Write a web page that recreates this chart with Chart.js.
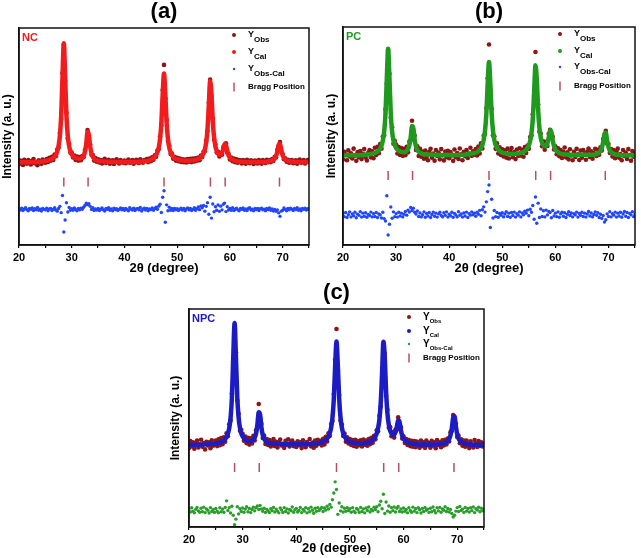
<!DOCTYPE html>
<html>
<head>
<meta charset="utf-8">
<script src="https://cdn.jsdelivr.net/npm/chart.js@4.4.1/dist/chart.umd.min.js"></script>
<style>
  body { margin: 0; background: #fff; }
  canvas { position: absolute; }
</style>
</head>
<body>
<canvas id="chartA" width="320" height="280" style="left:0;top:0"></canvas>
<canvas id="chartB" width="321" height="280" style="left:320px;top:0"></canvas>
<canvas id="chartC" width="325" height="278" style="left:165px;top:280px"></canvas>
<script>
// scan grid of the observed / difference patterns (2theta, degrees)
var scanStart = 20;
var scanStep = 0.25;
var braggPos = [28.5, 33.1, 47.5, 56.3, 59.1, 69.4];
var xTicks = [20, 30, 40, 50, 60, 70];
var legendSubs = ["Obs", "Cal", "Obs-Cal"];

// ---- (a) NC ----
var obsA = [
  37.2, 38.9, 38.4, 36.9, 39.3, 38.0, 37.5, 39.1, 38.6, 37.1, 38.8, 39.6, 37.7, 38.2, 36.8, 39.0, 38.5, 37.4, 39.4, 38.1,
  37.9, 39.6, 38.3, 40.2, 38.8, 40.6, 39.2, 41.7, 40.9, 44.0, 44.8, 51.6, 58.1, 79.2, 92.4, 75.8, 61.0, 49.1, 46.6, 42.5,
  42.6, 40.3, 41.2, 39.2, 40.8, 38.9, 40.5, 39.1, 41.0, 40.4, 43.8, 45.5, 53.0, 49.6, 46.3, 41.6, 41.4, 38.9, 40.1, 38.4,
  39.5, 38.0, 39.2, 37.6, 38.9, 39.7, 37.8, 38.4, 39.3, 37.5, 38.7, 39.0, 37.3, 38.8, 39.5, 38.1, 37.6, 39.1, 38.3, 37.9,
  38.9, 37.7, 38.5, 39.4, 37.9, 38.2, 39.1, 37.5, 38.6, 39.3, 38.0, 37.8, 39.5, 38.4, 37.9, 39.2, 38.7, 39.6, 38.2, 39.8,
  38.6, 40.4, 39.3, 41.3, 40.7, 43.5, 44.1, 50.0, 55.2, 71.4, 83.0, 67.6, 57.6, 47.9, 45.8, 41.9, 42.2, 39.8, 40.7, 38.9,
  40.2, 38.6, 39.8, 38.3, 39.5, 38.1, 39.4, 38.0, 39.6, 38.4, 39.7, 38.2, 39.8, 38.5, 40.0, 38.8, 40.3, 39.1, 41.2, 40.5,
  43.0, 43.2, 48.1, 52.5, 65.5, 76.2, 68.7, 58.3, 48.6, 46.3, 42.6, 42.9, 40.8, 42.4, 41.6, 45.0, 45.8, 46.9, 42.5, 42.0,
  39.4, 40.3, 38.6, 39.8, 38.1, 39.5, 37.9, 39.2, 38.9, 37.6, 39.1, 38.0, 37.5, 39.3, 38.6, 37.7, 39.0, 38.4, 37.3, 38.9,
  38.7, 37.6, 39.2, 38.0, 37.5, 39.1, 38.4, 37.8, 39.3, 38.1, 39.0, 38.2, 39.6, 38.7, 40.6, 40.3, 43.9, 45.4, 47.5, 43.0,
  41.9, 39.5, 40.0, 38.4, 39.3, 37.9, 38.9, 39.2, 37.7, 38.6, 39.0, 37.5, 38.8, 39.4, 37.9, 38.3, 39.1, 37.6, 38.5, 39.2,
  38.4
];
var calA = [
  [20, 38.1], [23, 38.2], [25, 38.7], [26, 39.4], [26.5, 40.1], [27, 41.6], [27.25, 43.1], [27.5, 45.6], [27.75, 50.2],
  [28, 59.5], [28.25, 77.5], [28.5, 93], [28.75, 77.5], [29, 59.5], [29.25, 50.3], [29.5, 45.7], [29.75, 43.3], [30, 41.8],
  [30.5, 40.4], [31, 39.9], [31.5, 39.8], [32, 40.3], [32.25, 41.1], [32.5, 42.9], [32.75, 46.4], [33, 52.2], [33.25, 50.7],
  [33.5, 45.4], [33.75, 42.3], [34, 40.6], [34.5, 39.3], [35, 38.8], [36, 38.5], [38, 38.3], [42, 38.3], [44, 38.6],
  [44.5, 38.8], [45, 39.3], [45.5, 40.0], [46, 41.4], [46.25, 42.7], [46.5, 44.9], [46.75, 48.9], [47, 56.3], [47.25, 69.3],
  [47.5, 79], [47.75, 69.3], [48, 56.3], [48.25, 48.9], [48.5, 44.9], [48.75, 42.7], [49, 41.4], [49.5, 40.0], [50, 39.5],
  [51, 38.9], [52, 38.8], [53, 39.0], [54, 39.6], [54.5, 40.4], [55, 42.2], [55.25, 44.0], [55.5, 47.2], [55.75, 53.4],
  [56, 64.4], [56.25, 75.6], [56.5, 69.8], [56.75, 57.1], [57, 49.5], [57.25, 45.5], [57.5, 43.3], [57.75, 42.1], [58, 41.6],
  [58.25, 41.65], [58.5, 42.4], [58.75, 44.25], [59, 46.6], [59.25, 46.05], [59.5, 43.25], [59.75, 41.25], [60, 40.15],
  [60.5, 39.25], [61, 38.8], [62, 38.4], [64, 38.2], [66, 38.25], [67, 38.4], [67.5, 38.6], [68, 38.9], [68.25, 39.3],
  [68.5, 39.9], [68.75, 41.0], [69, 43.1], [69.25, 46.2], [69.5, 46.7], [69.75, 43.7], [70, 41.3], [70.25, 40.1],
  [70.5, 39.4], [71, 38.75], [72, 38.4], [75, 38.2]
];
var diffA = [
  16.9, 16.1, 17.0, 15.9, 16.6, 17.2, 16.3, 15.8, 16.8, 16.4, 17.1, 15.9, 16.7, 16.2, 17.3, 16.0, 16.5, 15.7, 16.9, 16.4,
  16.2, 17.0, 15.8, 16.6, 16.9, 15.9, 16.4, 17.2, 16.1, 15.6, 16.8, 17.8, 14.9, 22.8, 6.0, 11.5, 19.5, 15.2, 17.3, 16.0,
  16.7, 16.0, 17.1, 16.3, 15.8, 16.9, 16.2, 17.0, 16.5, 17.4, 18.2, 19.3, 18.6, 19.0, 17.8, 16.4, 17.2, 15.9, 16.6, 16.1,
  16.8, 15.9, 16.5, 17.1, 16.2, 15.7, 16.9, 16.4, 17.2, 16.0, 16.6, 15.8, 17.0, 16.3, 16.7, 15.9, 16.4, 17.1, 16.2, 16.8,
  16.0, 16.9, 16.3, 15.8, 17.2, 16.5, 16.1, 17.0, 15.9, 16.6, 16.8, 16.2, 17.3, 15.7, 16.5, 17.0, 16.1, 16.9, 15.8, 16.6,
  16.3, 17.1, 16.0, 16.8, 17.4, 16.5, 17.9, 18.8, 15.0, 22.0, 25.0, 10.5, 18.5, 15.8, 17.4, 16.0, 16.8, 15.9, 16.9, 16.2,
  16.7, 15.9, 16.5, 17.0, 16.1, 16.8, 15.8, 16.6, 17.1, 16.2, 16.9, 15.9, 16.4, 17.2, 16.0, 16.7, 17.5, 16.3, 18.0, 17.2,
  18.2, 15.6, 17.8, 19.5, 14.2, 22.0, 12.4, 18.9, 15.3, 17.6, 16.0, 18.4, 15.5, 17.9, 16.2, 18.8, 19.3, 15.4, 17.6, 16.1,
  16.8, 16.0, 17.2, 15.9, 16.5, 17.0, 16.2, 15.8, 16.9, 16.4, 17.1, 16.0, 16.6, 15.9, 16.8, 17.2, 16.1, 16.5, 15.8, 16.9,
  16.3, 16.9, 15.9, 16.7, 17.0, 16.2, 16.5, 15.8, 16.9, 16.3, 17.1, 16.0, 16.6, 15.7, 16.4, 15.5, 16.2, 14.8, 13.2, 15.6,
  16.0, 17.1, 16.4, 15.8, 16.9, 16.2, 17.0, 16.5, 15.9, 16.8, 16.3, 17.2, 16.0, 16.6, 15.8, 16.9, 16.4, 17.0, 16.1, 16.7,
  16.4
];

// ---- (b) PC ----
var obsB = [
  39.2, 42.8, 41.5, 38.9, 43.4, 40.6, 42.1, 39.7, 44.2, 41.0, 38.6, 42.6, 40.2, 43.1, 39.4, 41.8, 44.0, 40.1, 38.8, 42.3,
  43.5, 40.2, 43.0, 39.8, 44.6, 41.3, 45.0, 42.1, 46.3, 44.2, 49.6, 50.4, 62.3, 74.1, 89.6, 78.5, 58.4, 54.0, 46.5, 47.8,
  46.1, 42.0, 44.9, 41.3, 44.5, 40.9, 44.1, 41.2, 45.0, 42.5, 47.4, 48.0, 57.0, 52.1, 50.2, 43.6, 45.3, 40.8, 44.1, 40.5,
  42.9, 39.6, 43.3, 40.4, 38.9, 42.7, 44.1, 40.0, 41.9, 38.7, 43.6, 40.8, 42.4, 39.3, 44.0, 41.2, 38.8, 42.9, 40.3, 43.2,
  39.8, 42.6, 41.1, 38.6, 43.8, 40.3, 42.2, 39.5, 44.3, 41.6, 38.9, 42.8, 40.7, 43.5, 39.9, 42.0, 44.6, 40.9, 43.0, 41.4,
  44.0, 41.1, 45.2, 42.0, 46.7, 44.3, 50.1, 51.0, 62.8, 76.5, 92.0, 71.2, 62.5, 50.3, 49.9, 44.1, 46.6, 42.0, 44.8, 41.3,
  43.9, 40.6, 43.4, 40.1, 44.2, 39.7, 42.9, 44.5, 40.3, 42.6, 39.4, 43.8, 40.9, 44.4, 41.0, 43.7, 40.5, 44.9, 42.2, 45.6,
  44.1, 49.5, 50.2, 60.0, 68.3, 88.5, 74.2, 64.6, 52.0, 51.1, 45.3, 47.6, 43.7, 47.2, 45.4, 51.0, 52.8, 50.2, 49.6, 43.8,
  45.3, 41.6, 44.4, 40.7, 43.6, 39.9, 42.8, 44.7, 40.2, 42.5, 39.3, 43.9, 41.1, 38.9, 42.7, 40.4, 44.1, 41.6, 39.0, 43.3,
  40.0, 43.6, 41.9, 39.1, 42.8, 44.3, 40.4, 43.0, 39.6, 42.2, 44.1, 40.8, 43.7, 41.4, 44.8, 43.3, 48.6, 50.2, 52.4, 46.6,
  46.3, 42.2, 44.0, 40.6, 43.5, 39.8, 42.9, 44.2, 40.0, 41.7, 38.9, 43.6, 40.8, 42.4, 39.5, 44.0, 41.3, 38.7, 43.1, 40.5,
  42.0
];
var calB = [
  [20, 41.1], [23, 41.2], [25, 41.6], [26, 42.2], [26.5, 42.9], [27, 44.2], [27.25, 45.6], [27.5, 47.8], [27.75, 51.8],
  [28, 60.1], [28.25, 76.2], [28.5, 90], [28.75, 76.4], [29, 60.3], [29.25, 52.1], [29.5, 48.1], [29.75, 46.0], [30, 44.5],
  [30.5, 43.2], [31, 42.7], [31.5, 42.6], [32, 43.2], [32.25, 44.0], [32.5, 45.8], [32.75, 49.3], [33, 54.6], [33.25, 53.6],
  [33.5, 48.3], [33.75, 45.2], [34, 43.6], [34.5, 42.3], [35, 41.8], [36, 41.5], [38, 41.3], [42, 41.3], [44, 41.7],
  [44.5, 42.0], [45, 42.3], [45.5, 43.1], [46, 44.6], [46.25, 45.9], [46.5, 48.2], [46.75, 52.4], [47, 60.2], [47.25, 73.9],
  [47.5, 84], [47.75, 73.9], [48, 60.2], [48.25, 52.4], [48.5, 48.2], [48.75, 45.9], [49, 44.6], [49.5, 43.1], [50, 42.4],
  [51, 41.9], [52, 41.7], [53, 41.9], [54, 42.7], [54.5, 43.6], [55, 45.7], [55.25, 47.7], [55.5, 51.3], [55.75, 57.9],
  [56, 70.0], [56.25, 82.4], [56.5, 76.1], [56.75, 62.3], [57, 53.6], [57.25, 49.2], [57.5, 46.9], [57.75, 45.8], [58, 45.3],
  [58.25, 45.5], [58.5, 46.7], [58.75, 49.3], [59, 52.6], [59.25, 51.8], [59.5, 48.0], [59.75, 45.3], [60, 43.8],
  [60.5, 42.5], [61, 41.9], [62, 41.5], [64, 41.3], [66, 41.4], [67, 41.4], [67.5, 41.6], [68, 42.0], [68.25, 42.5],
  [68.5, 43.2], [68.75, 44.6], [69, 47.2], [69.25, 50.9], [69.5, 51.5], [69.75, 47.9], [70, 45.0], [70.25, 43.4],
  [70.5, 42.6], [71, 41.8], [72, 41.3], [75, 41.1]
];
var diffB = [
  14.5, 13.0, 14.9, 12.6, 13.9, 15.2, 12.9, 14.3, 13.4, 15.0, 12.5, 14.1, 13.6, 15.3, 12.8, 14.6, 13.2, 14.8, 12.7, 14.0,
  13.5, 15.1, 12.9, 14.4, 13.1, 14.9, 12.6, 14.2, 13.8, 12.4, 15.0, 12.1, 11.0, 22.6, 4.6, 9.5, 17.4, 12.3, 15.2, 13.0,
  14.4, 12.8, 15.0, 13.3, 14.6, 12.9, 14.1, 15.4, 13.7, 16.0, 15.1, 17.2, 15.8, 16.9, 15.0, 14.2, 15.6, 13.1, 14.7, 12.9,
  13.9, 15.2, 12.7, 14.5, 13.3, 14.9, 12.6, 14.0, 15.1, 13.2, 14.6, 12.8, 14.3, 15.0, 13.5, 12.9, 14.8, 13.6, 15.2, 12.8,
  14.1, 13.4, 15.0, 12.7, 14.5, 13.8, 12.9, 15.3, 13.6, 14.2, 12.8, 14.7, 13.3, 15.1, 12.6, 14.4, 13.7, 15.2, 13.9, 14.6,
  13.2, 15.0, 14.1, 15.9, 13.4, 16.2, 17.5, 15.1, 19.8, 24.5, 27.5, 8.0, 21.0, 12.4, 15.8, 13.0, 14.9, 12.7, 14.5, 13.6,
  14.8, 12.9, 14.2, 15.3, 13.1, 14.6, 12.7, 14.9, 13.5, 15.1, 12.8, 14.4, 13.7, 15.2, 12.9, 14.7, 13.9, 15.5, 14.6, 16.0,
  13.4, 16.4, 15.0, 18.1, 11.8, 22.0, 10.0, 19.2, 12.6, 16.5, 13.1, 15.7, 12.9, 16.0, 13.8, 15.4, 14.9, 12.5, 15.8, 13.3,
  14.6, 13.0, 15.2, 12.7, 14.3, 15.0, 13.2, 14.8, 12.6, 14.1, 15.3, 13.5, 14.7, 12.9, 14.4, 13.8, 15.1, 12.8, 14.5, 13.6,
  15.0, 13.1, 14.6, 12.8, 14.2, 15.4, 13.3, 14.7, 12.9, 14.0, 15.2, 13.6, 14.8, 12.6, 14.1, 12.2, 13.5, 10.5, 11.6, 14.3,
  13.1, 15.3, 12.9, 14.4, 13.7, 15.1, 12.8, 14.6, 13.3, 15.0, 12.7, 14.2, 15.4, 13.2, 14.9, 12.6, 14.5, 13.8, 15.3, 13.0,
  14.2
];

// ---- (c) NPC ----
var obsC = [
  36.2, 39.4, 37.0, 38.8, 35.9, 38.1, 39.6, 36.5, 37.9, 40.0, 36.8, 38.5, 35.6, 39.1, 37.4, 38.9, 36.1, 39.8, 37.3, 38.2,
  39.6, 37.1, 40.2, 37.5, 40.8, 38.0, 41.2, 39.1, 43.0, 41.6, 47.1, 48.8, 61.2, 76.0, 87.0, 80.2, 58.0, 51.9, 44.2, 44.6,
  42.8, 39.6, 41.5, 38.4, 40.9, 37.8, 40.7, 38.3, 41.8, 39.7, 44.4, 45.6, 56.4, 50.1, 47.3, 40.8, 41.9, 38.1, 40.4, 37.6,
  39.9, 36.9, 38.8, 40.3, 37.2, 39.1, 36.5, 38.7, 40.1, 37.4, 38.2, 36.3, 39.5, 37.8, 40.2, 36.9, 38.6, 39.7, 37.1, 38.4,
  36.7, 39.3, 37.5, 38.9, 36.2, 39.8, 37.9, 36.6, 39.0, 38.1, 40.4, 37.0, 38.7, 36.4, 39.6, 37.3, 40.0, 38.2, 39.5, 37.4,
  40.5, 37.9, 41.4, 39.2, 43.0, 41.7, 47.2, 48.6, 61.0, 76.8, 90.8, 71.5, 60.6, 48.9, 47.0, 41.8, 42.9, 39.1, 41.2, 38.3,
  40.3, 37.6, 39.9, 37.2, 40.0, 36.8, 39.4, 37.5, 39.8, 36.9, 40.1, 37.7, 39.6, 37.3, 40.4, 38.0, 40.9, 38.6, 41.8, 40.2,
  44.4, 43.9, 51.0, 55.2, 72.9, 83.3, 79.5, 60.1, 53.8, 45.5, 45.8, 41.6, 43.5, 41.0, 44.7, 44.6, 50.3, 47.0, 45.8, 40.6,
  41.6, 38.5, 40.4, 37.6, 39.9, 37.1, 39.5, 36.8, 39.4, 36.6, 39.2, 37.8, 36.4, 39.6, 37.2, 38.9, 36.3, 39.7, 37.5, 38.6,
  36.4, 39.5, 37.3, 38.8, 36.1, 39.9, 37.6, 38.9, 36.6, 39.8, 37.4, 40.0, 37.9, 40.6, 39.2, 43.5, 44.0, 51.4, 50.1, 47.5,
  41.3, 41.9, 38.4, 40.2, 37.3, 39.6, 36.8, 39.7, 37.6, 36.2, 39.3, 37.8, 36.5, 39.9, 38.3, 36.7, 39.4, 37.2, 38.8, 36.9,
  38.4
];
var calC = [
  [20, 37.7], [23, 37.9], [25, 38.3], [26, 39.0], [26.5, 39.7], [27, 41.3], [27.25, 42.8], [27.5, 45.3], [27.75, 50.0],
  [28, 59.4], [28.25, 77.9], [28.5, 93.6], [28.75, 78.1], [29, 59.6], [29.25, 50.2], [29.5, 45.5], [29.75, 43.0], [30, 41.6],
  [30.5, 40.1], [31, 39.5], [31.5, 39.5], [32, 40.1], [32.25, 41.0], [32.5, 42.9], [32.75, 46.85], [33, 52.6], [33.25, 51.6],
  [33.5, 45.7], [33.75, 42.2], [34, 40.5], [34.5, 39.0], [35, 38.5], [36, 38.2], [38, 38.0], [42, 38.0], [44, 38.4],
  [44.5, 38.7], [45, 39.1], [45.5, 39.9], [46, 41.5], [46.25, 43.1], [46.5, 45.6], [46.75, 50.2], [47, 58.8], [47.25, 73.9],
  [47.5, 85.1], [47.75, 73.9], [48, 58.8], [48.25, 50.2], [48.5, 45.6], [48.75, 43.1], [49, 41.5], [49.5, 39.9], [50, 39.1],
  [51, 38.5], [52, 38.3], [53, 38.6], [54, 39.4], [54.5, 40.5], [55, 42.9], [55.25, 45.3], [55.5, 49.3], [55.75, 57.0],
  [56, 70.8], [56.25, 85.0], [56.5, 77.8], [56.75, 62.0], [57, 52.0], [57.25, 46.9], [57.5, 44.2], [57.75, 42.9], [58, 42.2],
  [58.25, 42.3], [58.5, 43.4], [58.75, 45.9], [59, 49.1], [59.25, 48.2], [59.5, 44.5], [59.75, 41.9], [60, 40.4],
  [60.5, 39.2], [61, 38.6], [62, 38.1], [64, 37.8], [66, 37.9], [67, 38.1], [67.5, 38.3], [68, 38.9], [68.25, 39.4],
  [68.5, 40.4], [68.75, 42.1], [69, 45.3], [69.25, 50.0], [69.5, 50.8], [69.75, 46.2], [70, 42.6], [70.25, 40.6],
  [70.5, 39.6], [71, 38.6], [72, 38.0], [75, 37.7]
];
var diffC = [
  8.4, 6.9, 8.8, 7.2, 6.5, 8.1, 9.0, 7.4, 6.8, 8.6, 7.0, 9.1, 6.6, 8.3, 7.7, 6.4, 8.9, 7.1, 8.0, 6.7,
  8.5, 7.2, 6.5, 8.8, 7.0, 8.2, 6.8, 9.0, 12.0, 7.6, 8.9, 6.4, 9.5, 5.4, 1.0, 3.6, 9.3, 6.0, 8.4, 7.1,
  8.7, 6.8, 8.2, 9.3, 7.0, 8.5, 6.6, 8.0, 9.1, 7.4, 8.8, 9.6, 8.0, 9.9, 8.3, 7.2, 8.6, 6.7, 8.1, 7.3,
  6.6, 8.4, 7.5, 9.0, 6.9, 8.2, 7.3, 6.5, 8.7, 7.8, 6.7, 8.9, 7.1, 8.3, 6.4, 8.0, 7.6, 9.2, 6.8, 7.9,
  8.5, 6.9, 7.6, 9.0, 6.6, 8.1, 7.3, 8.8, 6.5, 8.4, 7.0, 9.1, 7.7, 6.3, 8.6, 7.2, 8.9, 7.5, 8.2, 9.0,
  7.1, 8.7, 7.8, 9.5, 8.2, 10.4, 9.1, 12.5, 15.6, 20.7, 17.2, 5.8, 11.0, 7.4, 9.3, 6.9, 8.6, 7.2, 8.8, 7.5,
  8.4, 6.8, 8.9, 7.3, 6.6, 8.5, 7.9, 6.7, 9.0, 7.1, 8.3, 6.5, 8.7, 7.6, 9.2, 6.9, 8.1, 7.4, 9.1, 8.0,
  9.3, 7.0, 10.1, 11.8, 8.4, 15.0, 6.2, 11.5, 7.3, 9.6, 6.8, 8.9, 7.5, 9.2, 6.9, 8.6, 9.4, 7.1, 8.3, 6.9,
  8.7, 7.2, 8.0, 6.5, 8.9, 7.6, 6.8, 9.1, 7.3, 8.4, 6.6, 8.8, 7.9, 6.4, 8.5, 7.1, 9.0, 7.7, 8.2, 6.7,
  8.6, 7.0, 9.2, 7.6, 6.5, 8.8, 7.4, 9.0, 6.8, 8.3, 7.7, 9.3, 7.1, 8.5, 6.9, 8.0, 6.2, 4.6, 5.4, 7.3,
  8.9, 7.1, 9.4, 7.6, 8.2, 6.7, 9.0, 7.3, 8.5, 6.9, 8.8, 7.5, 9.2, 6.6, 8.4, 7.8, 9.1, 7.0, 8.6, 7.4,
  8.2
];

var obsColor = "#8c1616";
var braggColor = "#b5505e";
var fontFam = '"Liberation Sans", Arial, sans-serif';

Chart.defaults.font.family = fontFam;
Chart.defaults.color = "#000";

// frame, panel letter, sample tag and the legend with subscripts
var decor = {
    id: "decor",
    afterDatasetsDraw: function (chart, args, o) {
        var ctx = chart.ctx, a = chart.chartArea;
        ctx.save();
        ctx.strokeStyle = "#111";
        ctx.lineWidth = 1.5;
        ctx.strokeRect(a.left, a.top, a.right - a.left, a.bottom - a.top);

        ctx.fillStyle = "#000";
        ctx.textAlign = "center";
        ctx.textBaseline = "middle";
        ctx.font = "bold 22px " + fontFam;
        ctx.fillText(o.title, (a.left + a.right) / 2, o.titleY);

        ctx.textAlign = "left";
        ctx.fillStyle = o.tagColor;
        ctx.font = "bold 11px " + fontFam;
        ctx.fillText(o.tag, a.left + 3, a.top + 10);

        var mx = a.right - 75, tx = a.right - 61;
        var marks = [[obsColor, 2], [o.calColor, 2], [o.diffColor, 1.2]];
        for (var i = 0; i < 3; i++) {
            var y = a.top + o.rowY[i];
            ctx.fillStyle = marks[i][0];
            ctx.beginPath();
            ctx.arc(mx, y, marks[i][1], 0, Math.PI * 2);
            ctx.fill();
            ctx.fillStyle = "#000";
            ctx.font = "bold " + o.yFont + "px " + fontFam;
            ctx.fillText("Y", tx, y);
            var w = ctx.measureText("Y").width;
            ctx.font = "bold " + o.subFont + "px " + fontFam;
            ctx.fillText(legendSubs[i], tx + w, y + o.subDrop);
        }
        var by = a.top + o.rowY[3];
        ctx.strokeStyle = braggColor;
        ctx.lineWidth = 1.5;
        ctx.beginPath();
        ctx.moveTo(mx, by - 4.5);
        ctx.lineTo(mx, by + 4.5);
        ctx.stroke();
        ctx.fillStyle = "#000";
        ctx.font = "bold 8px " + fontFam;
        ctx.fillText("Bragg Position", tx, by);
        ctx.restore();
    }
};

function scanPoints(ys) {
    return ys.map(function (y, i) { return { x: scanStart + i * scanStep, y: y }; });
}

function makeChart(id, p) {
    return new Chart(document.getElementById(id), {
        type: "scatter",
        data: {
            datasets: [
                {
                    label: "YCal",
                    data: p.cal.map(function (d) { return { x: d[0], y: d[1] }; }),
                    showLine: true,
                    borderColor: p.calColor,
                    borderWidth: 4.5,
                    pointRadius: 0,
                    cubicInterpolationMode: "monotone",
                    order: 0
                },
                {
                    label: "YObs",
                    data: scanPoints(p.obs),
                    backgroundColor: obsColor,
                    pointRadius: 2.3,
                    borderWidth: 0,
                    order: 1
                },
                {
                    label: "YObs-Cal",
                    data: scanPoints(p.diff),
                    backgroundColor: p.diffColor,
                    pointRadius: 1.7,
                    borderWidth: 0,
                    order: 2
                },
                {
                    label: "Bragg Position",
                    data: braggPos.map(function (x) { return { x: x, y: p.braggY }; }),
                    pointStyle: "line",
                    rotation: 90,
                    pointRadius: 4.5,
                    borderColor: braggColor,
                    borderWidth: 1.5,
                    order: 3
                }
            ]
        },
        options: {
            responsive: false,
            animation: false,
            devicePixelRatio: 1,
            events: [],
            layout: { padding: { left: p.padL, right: p.padR, top: p.padT, bottom: 0 } },
            plugins: {
                legend: { display: false },
                tooltip: { enabled: false },
                decor: p.decor
            },
            scales: {
                x: {
                    type: "linear",
                    min: 20,
                    max: 75,
                    ticks: {
                        stepSize: 5,
                        autoSkip: false,
                        maxRotation: 0,
                        padding: 3,
                        color: "#000",
                        font: { size: 11, weight: "bold" },
                        callback: function (v) { return xTicks.indexOf(v) >= 0 ? v : ""; }
                    },
                    grid: { drawOnChartArea: false, drawTicks: true, tickLength: 3, color: "#000", lineWidth: 1.2 },
                    border: { color: "#111", width: 1.5 },
                    title: {
                        display: true,
                        text: "2θ (degree)",
                        color: "#000",
                        font: { size: 13, weight: "bold" },
                        padding: { top: 0, bottom: p.xTitlePad }
                    },
                    afterFit: function (s) { s.height = p.xAxisH; }
                },
                y: {
                    min: 0,
                    max: 100,
                    ticks: { display: false },
                    grid: { display: false },
                    border: { color: "#111", width: 1.5 },
                    title: {
                        display: true,
                        text: "Intensity (a. u.)",
                        color: "#000",
                        font: { size: 12, weight: "bold" },
                        padding: 0
                    },
                    afterFit: function (s) { s.width = p.yAxisW; }
                }
            }
        },
        plugins: [decor]
    });
}

makeChart("chartA", {
    obs: obsA, cal: calA, diff: diffA,
    calColor: "#f21c1c", diffColor: "#2246ff", braggY: 29,
    padL: 0, padR: 11, padT: 28, xAxisH: 35, xTitlePad: 4, yAxisW: 19,
    decor: { title: "(a)", titleY: 12, tag: "NC", tagColor: "#ee1c1c", calColor: "#f21c1c", diffColor: "#2246ff",
             rowY: [7, 24, 41, 59], yFont: 9, subFont: 8, subDrop: 5 }
});

makeChart("chartB", {
    obs: obsB, cal: calB, diff: diffB,
    calColor: "#1f9a1f", diffColor: "#2246ff", braggY: 31.9,
    padL: 4, padR: 4, padT: 27, xAxisH: 35, xTitlePad: 4, yAxisW: 19,
    decor: { title: "(b)", titleY: 12, tag: "PC", tagColor: "#1f9a1f", calColor: "#1f9a1f", diffColor: "#2246ff",
             rowY: [7, 24, 40, 59], yFont: 9, subFont: 8, subDrop: 5 }
});

makeChart("chartC", {
    obs: obsC, cal: calC, diff: diffC,
    calColor: "#1c1cc4", diffColor: "#2a9e2a", braggY: 27.3,
    padL: 3, padR: 4, padT: 29, xAxisH: 31, xTitlePad: 2, yAxisW: 21,
    decor: { title: "(c)", titleY: 13, tag: "NPC", tagColor: "#1c1cc4", calColor: "#1c1cc4", diffColor: "#2a9e2a",
             rowY: [8, 22, 35, 49], yFont: 10, subFont: 6, subDrop: 4 }
});
</script>
</body>
</html>
